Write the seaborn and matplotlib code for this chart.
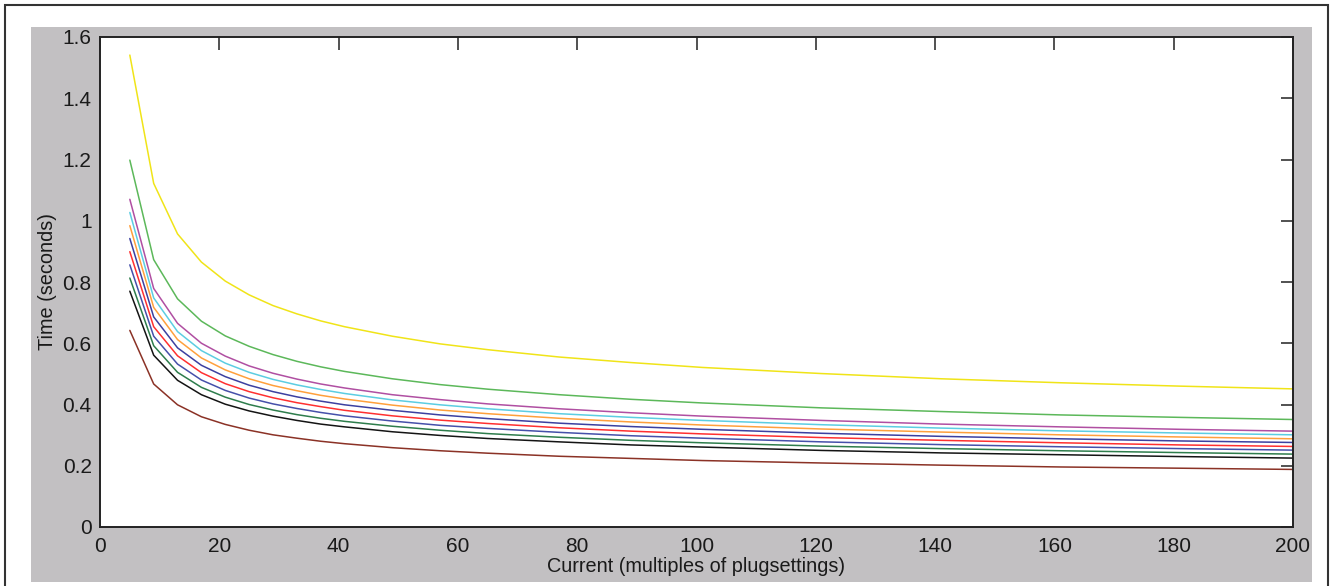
import matplotlib
matplotlib.use("Agg")
import matplotlib.pyplot as plt
from matplotlib.patches import Rectangle
import seaborn as sns
import pandas as pd

current = [5, 9, 13, 17, 21, 25, 29, 33, 37, 41, 49, 57, 65, 77, 89, 101, 121, 141, 161, 181, 200]

t_yellow = [1.541, 1.122, 0.957, 0.865, 0.803, 0.758, 0.723, 0.696, 0.673, 0.654, 0.623, 0.598, 0.579, 0.555, 0.537, 0.521, 0.501, 0.484, 0.471, 0.460, 0.451]
t_green = [1.198, 0.873, 0.745, 0.672, 0.624, 0.590, 0.563, 0.541, 0.523, 0.508, 0.484, 0.465, 0.450, 0.432, 0.417, 0.405, 0.389, 0.377, 0.366, 0.358, 0.351]
t_magenta = [1.070, 0.779, 0.665, 0.600, 0.558, 0.526, 0.502, 0.483, 0.467, 0.454, 0.432, 0.416, 0.402, 0.386, 0.373, 0.362, 0.348, 0.336, 0.327, 0.319, 0.313]
t_cyan = [1.027, 0.748, 0.638, 0.576, 0.535, 0.505, 0.482, 0.464, 0.449, 0.436, 0.415, 0.399, 0.386, 0.370, 0.358, 0.348, 0.334, 0.323, 0.314, 0.307, 0.301]
t_orange = [0.984, 0.717, 0.612, 0.552, 0.513, 0.484, 0.462, 0.445, 0.430, 0.418, 0.398, 0.382, 0.370, 0.355, 0.343, 0.333, 0.320, 0.310, 0.301, 0.294, 0.288]
t_blue = [0.942, 0.686, 0.585, 0.528, 0.491, 0.463, 0.442, 0.425, 0.411, 0.399, 0.381, 0.366, 0.354, 0.339, 0.328, 0.319, 0.306, 0.296, 0.288, 0.281, 0.276]
t_red = [0.899, 0.654, 0.559, 0.504, 0.468, 0.442, 0.422, 0.406, 0.393, 0.381, 0.363, 0.349, 0.338, 0.324, 0.313, 0.304, 0.292, 0.283, 0.275, 0.268, 0.263]
t_blue2 = [0.856, 0.623, 0.532, 0.480, 0.446, 0.421, 0.402, 0.387, 0.374, 0.363, 0.346, 0.332, 0.322, 0.309, 0.298, 0.290, 0.278, 0.269, 0.262, 0.256, 0.251]
t_dgreen = [0.813, 0.592, 0.505, 0.456, 0.424, 0.400, 0.382, 0.367, 0.355, 0.345, 0.329, 0.316, 0.305, 0.293, 0.283, 0.275, 0.264, 0.256, 0.249, 0.243, 0.238]
t_black = [0.770, 0.561, 0.479, 0.432, 0.401, 0.379, 0.362, 0.348, 0.336, 0.327, 0.311, 0.299, 0.289, 0.278, 0.268, 0.261, 0.250, 0.242, 0.236, 0.230, 0.225]
t_brown = [0.642, 0.467, 0.399, 0.360, 0.335, 0.316, 0.301, 0.290, 0.280, 0.272, 0.259, 0.249, 0.241, 0.231, 0.224, 0.217, 0.209, 0.202, 0.196, 0.192, 0.188]

series_names = ["yellow", "green", "magenta", "cyan", "orange", "blue", "red", "blue2", "dgreen", "black", "brown"]
series_values = [t_yellow, t_green, t_magenta, t_cyan, t_orange, t_blue, t_red, t_blue2, t_dgreen, t_black, t_brown]
series_colors = ["#f0e418", "#5cb85a", "#b04fa2", "#5ccde2", "#ffa03c", "#3c40a0", "#ff3030",
                 "#4650aa", "#2e7d4c", "#141414", "#8b3226"]

x_ticks = [0, 20, 40, 60, 80, 100, 120, 140, 160, 180, 200]
y_ticks = [0, 0.2, 0.4, 0.6, 0.8, 1.0, 1.2, 1.4, 1.6]
y_tick_labels = ["0", "0.2", "0.4", "0.6", "0.8", "1", "1.2", "1.4", "1.6"]

rows = []
for name, vals in zip(series_names, series_values):
    for xv, yv in zip(current, vals):
        rows.append({"Current": xv, "Time": yv, "series": name})
df = pd.DataFrame(rows)

sns.set_style("white")
plt.rcParams["font.family"] = ["Liberation Sans", "DejaVu Sans"]

W, H = 1330, 586
fig = plt.figure(figsize=(W / 100, H / 100), dpi=100)
fig.patch.set_facecolor("white")

# outer frame
fig.add_artist(Rectangle((5 / W, -0.02), (1328 - 5) / W, 1 - 5 / H + 0.02,
                         transform=fig.transFigure, fill=False, edgecolor="#333333", lw=1.5,
                         zorder=-20))
# grey figure background
fig.add_artist(Rectangle((31 / W, (H - 582) / H), (1312 - 31) / W, (582 - 27) / H,
                         transform=fig.transFigure, facecolor="#c2c0c2", edgecolor="none",
                         zorder=-10))

ax = fig.add_axes([100 / W, (H - 527) / H, (1293 - 100) / W, (527 - 37) / H])
ax.set_zorder(1)
ax.set_facecolor("white")

sns.lineplot(data=df, x="Current", y="Time", hue="series", hue_order=series_names,
             palette=series_colors, linewidth=1.1, legend=False, ax=ax, estimator=None,
             sort=False)

ax.set_xlim(0, 200)
ax.set_ylim(0, 1.6)
ax.set_xticks(x_ticks)
ax.set_xticklabels([str(v) for v in x_ticks])
ax.set_yticks(y_ticks)
ax.set_yticklabels(y_tick_labels)
ax.tick_params(direction="in", length=9, width=1.1, color="#222222", top=True, right=True,
               labelsize=15, pad=6, labelcolor="#1a1a1a")
ax.tick_params(axis="x", pad=7)
for s in ax.spines.values():
    s.set_visible(True)
    s.set_color("#222222")
    s.set_linewidth(1.4)

ax.set_xlabel("Current (multiples of plugsettings)", fontsize=14.3, color="#1a1a1a", labelpad=1)
ax.set_ylabel("Time (seconds)", fontsize=14.3, color="#1a1a1a", labelpad=4)

fig.savefig("out.png", dpi=100, facecolor="white")
